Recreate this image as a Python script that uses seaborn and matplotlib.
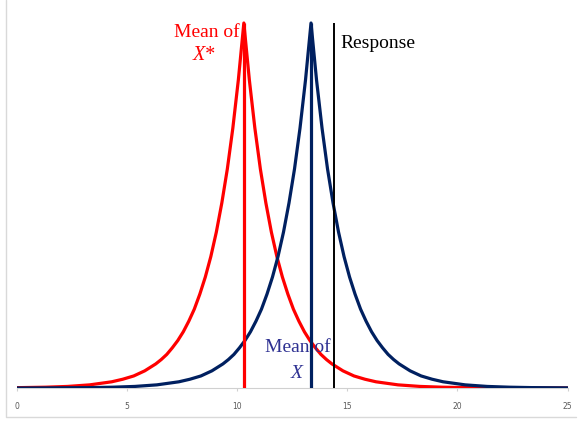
import numpy as np
import pandas as pd
import matplotlib
matplotlib.use("Agg")
import matplotlib.pyplot as plt
import seaborn as sns
from matplotlib.lines import Line2D

# ---- data (relative height, peak = 1) ----
red_x = [0, 1.3, 2.3, 3.3, 4.3, 4.8, 5.3, 5.8, 6.3, 6.55, 6.8, 7.05, 7.3, 7.55, 7.8, 8.05,
         8.3, 8.55, 8.8, 9.05, 9.3, 9.55, 9.8, 10.05, 10.3,
         10.55, 10.8, 11.05, 11.3, 11.55, 11.8, 12.05, 12.3, 12.55, 12.8, 13.05, 13.3,
         13.55, 13.8, 14.05, 14.3, 14.8, 15.3, 15.8, 16.3, 17.3, 18.3, 19.3, 20.3, 22.3, 25]
red_y = [0.0009, 0.0022, 0.0043, 0.0086, 0.017, 0.024, 0.033, 0.047, 0.066, 0.078, 0.092,
         0.110, 0.130, 0.154, 0.183, 0.216, 0.257, 0.304, 0.360, 0.427, 0.507, 0.600,
         0.712, 0.844, 1.0,
         0.844, 0.712, 0.600, 0.507, 0.427, 0.360, 0.304, 0.257, 0.216, 0.183, 0.154,
         0.130, 0.110, 0.092, 0.078, 0.066, 0.047, 0.033, 0.024, 0.017, 0.0086, 0.0043,
         0.0022, 0.0011, 0.0003, 0.0001]

navy_x = [0, 1.35, 3.35, 4.35, 5.35, 6.35, 7.35, 7.85, 8.35, 8.85, 9.35, 9.6, 9.85, 10.1,
          10.35, 10.6, 10.85, 11.1, 11.35, 11.6, 11.85, 12.1, 12.35, 12.6, 12.85, 13.1, 13.35,
          13.6, 13.85, 14.1, 14.35, 14.6, 14.85, 15.1, 15.35, 15.6, 15.85, 16.1, 16.35,
          16.6, 16.85, 17.1, 17.35, 17.85, 18.35, 18.85, 19.35, 20.35, 21.35, 22.35, 23.35, 25]
navy_y = [0.0001, 0.0003, 0.0011, 0.0022, 0.0043, 0.0086, 0.017, 0.024, 0.033, 0.047,
          0.066, 0.078, 0.092, 0.110, 0.130, 0.154, 0.183, 0.216, 0.257, 0.304, 0.360,
          0.427, 0.507, 0.600, 0.712, 0.844, 1.0,
          0.844, 0.712, 0.600, 0.507, 0.427, 0.360, 0.304, 0.257, 0.216, 0.183, 0.154,
          0.130, 0.110, 0.092, 0.078, 0.066, 0.047, 0.033, 0.024, 0.017, 0.0086, 0.0043,
          0.0022, 0.0011, 0.0004]

mean_x_star = 10.3
mean_x = 13.35
response = 14.4
x_ticks = [0, 5, 10, 15, 20, 25]

RED = "#ff0000"
NAVY = "#002060"
NAVY_TXT = "#2e3192"

df = pd.concat([
    pd.DataFrame({"x": red_x, "y": red_y, "curve": "X*"}),
    pd.DataFrame({"x": navy_x, "y": navy_y, "curve": "X"}),
])

sns.set_style("white")
fig = plt.figure(figsize=(5.78, 4.21), dpi=100)
ax = fig.add_axes([17 / 578, 1 - 388 / 421, 550.6 / 578, 388 / 421])

sns.lineplot(data=df, x="x", y="y", hue="curve", palette={"X*": RED, "X": NAVY},
             linewidth=2.3, legend=False, ax=ax, sort=False)

# mean / response markers
ax.vlines(mean_x_star, 0, 1.0, color=RED, lw=2.3)
ax.vlines(mean_x, 0, 1.0, color=NAVY, lw=2.3)
ax.vlines(response, 0, 1.0, color="black", lw=1.4)

serif = "Liberation Serif"
ax.text(10.13, 0.975, "Mean of", color=RED, family=serif, fontsize=14,
        ha="right", va="center")
ax.text(8.5, 0.912, "X*", color=RED, family=serif, fontsize=14.5, style="italic",
        ha="center", va="center")
ax.text(14.69, 0.945, "Response", color="black", family=serif, fontsize=14,
        ha="left", va="center")
ax.text(12.74, 0.11, "Mean of", color=NAVY_TXT, family=serif, fontsize=14,
        ha="center", va="center")
ax.text(12.69, 0.041, "X", color=NAVY_TXT, family=serif, fontsize=14, style="italic",
        ha="center", va="center")

ax.set_xlim(0, 25)
ax.set_ylim(0, 1.063)
ax.set_xticks(x_ticks)
ax.set_yticks([])
ax.set_xlabel("")
ax.set_ylabel("")
ax.tick_params(axis="x", labelsize=5.5, labelcolor="#595959", color="#d0d0d0",
               length=2, width=0.8, pad=8, bottom=True)
for side in ["top", "right", "left"]:
    ax.spines[side].set_visible(False)
ax.spines["bottom"].set_color("#d0d0d0")
ax.spines["bottom"].set_linewidth(0.8)
ax.spines["bottom"].set_zorder(0)

# light frame (left and bottom edges) around the chart area
fig.lines.append(Line2D([5.5 / 578, 5.5 / 578, 576 / 578], [1.0, 4.5 / 421, 4.5 / 421],
                        transform=fig.transFigure, color="#d9d9d9", lw=1.0))

plt.savefig("out.png", dpi=100)
